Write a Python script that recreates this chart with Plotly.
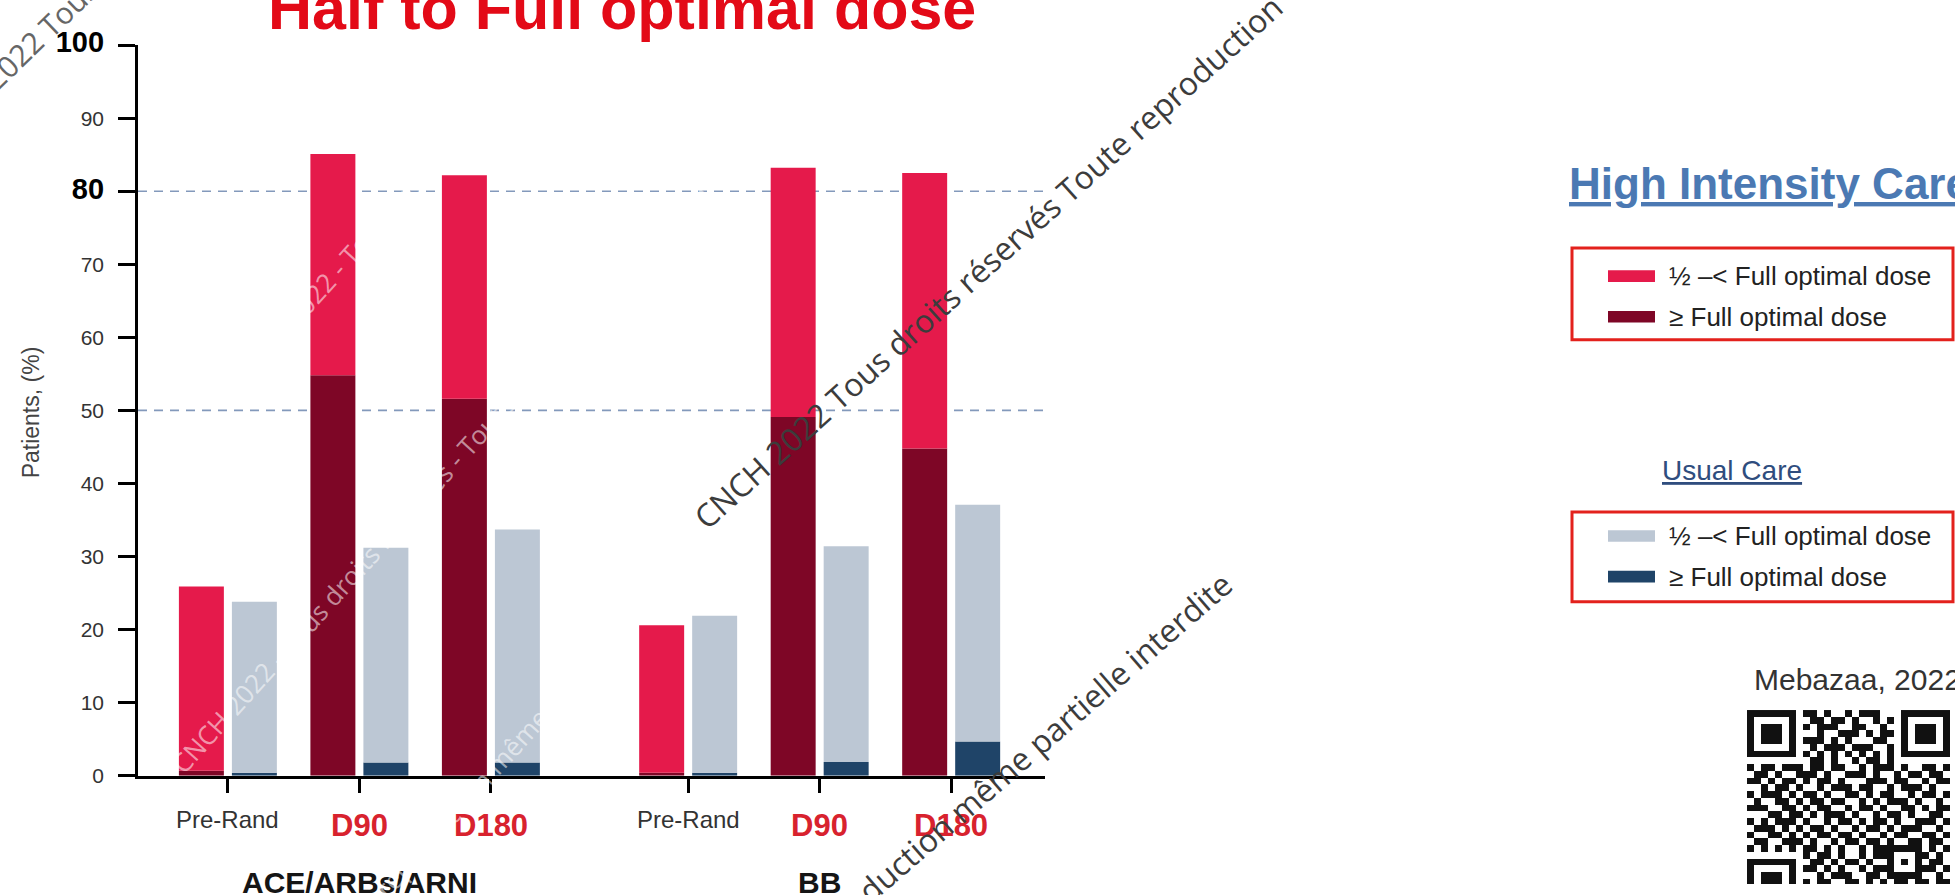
import plotly.graph_objects as go

W, H = 1955, 895

# ---- data -------------------------------------------------------------
categories = ["Pre-Rand", "D90", "D180", "Pre-Rand", "D90", "D180"]
cat_pos = [0, 1, 2, 3.5, 4.5, 5.5]
groups = ["ACE/ARBs/ARNI", "BB"]
group_pos = [1, 4.5]

# % of patients, High Intensity Care
hi_full = [0.7, 54.8, 51.6, 0.4, 49.1, 44.8]      # >= full optimal dose
hi_half = [25.2, 30.3, 30.6, 20.2, 34.1, 37.7]    # 1/2 to < full optimal dose
# % of patients, Usual Care
uc_full = [0.4, 1.8, 1.8, 0.4, 1.9, 4.7]
uc_half = [23.4, 29.4, 31.9, 21.5, 29.5, 32.4]

ref_lines = [80, 50]
y_ticks = [0, 10, 20, 30, 40, 50, 60, 70, 80, 90, 100]
y_bold_ticks = [80, 100]

legend_labels = ["½ –< Full optimal dose", "≥ Full optimal dose"]

# QR code modules (29 x 29)
qr_rows = [
    "11111110110100101110001111111",
    "10000010011011010010101000001",
    "10111010101110011001001011101",
    "10111010001001110101101011101",
    "10111010111010100011001011101",
    "10000010010111011100101000001",
    "11111110101010101010101111111",
    "00000000011010010110100000000",
    "10110111011011001011101001101",
    "01101001110100111010010110110",
    "11010110101101000111011001011",
    "00101101001011101100101110100",
    "10111010110100110101100101101",
    "01001101011011001010111010010",
    "11100110101100101101001101011",
    "00011011010111010010110100110",
    "10101110100101101011010011101",
    "01110101011010010110101110010",
    "10011010101101101001011001101",
    "01100111010010110110100110110",
    "10101010110101001011111110101",
    "00000000101101001011100011010",
    "11111110011010110100101010110",
    "10000010110101001011100011101",
    "10111010001011100110111110010",
    "10111010101100110101011011011",
    "10111010010111001010101100100",
    "10000010110010110101010111101",
    "11111110011101011010110100110",
]

# ---- style ------------------------------------------------------------
HI_LIGHT = "#e51a4b"
HI_DARK = "#7e0626"
UC_LIGHT = "#bcc7d4"
UC_DARK = "#1f4468"
RED_TXT = "#e30a17"
FONT = "Liberation Sans"

BAR_W = 0.342
HI_OFF = -0.373
UC_OFF = 0.030


def px(x):
    return x / W


def py(y):
    return 1 - y / H


fig = go.Figure()

fig.add_trace(go.Bar(x=cat_pos, y=hi_full, width=BAR_W, offset=HI_OFF,
                     marker=dict(color=HI_DARK, line=dict(width=0)), showlegend=False))
fig.add_trace(go.Bar(x=cat_pos, y=hi_half, base=hi_full, width=BAR_W, offset=HI_OFF,
                     marker=dict(color=HI_LIGHT, line=dict(width=0)), showlegend=False))
fig.add_trace(go.Bar(x=cat_pos, y=uc_full, width=BAR_W, offset=UC_OFF,
                     marker=dict(color=UC_DARK, line=dict(width=0)), showlegend=False))
fig.add_trace(go.Bar(x=cat_pos, y=uc_half, base=uc_full, width=BAR_W, offset=UC_OFF,
                     marker=dict(color=UC_LIGHT, line=dict(width=0)), showlegend=False))

# QR code block
fig.add_trace(go.Heatmap(
    z=[[int(c) for c in row] for row in qr_rows],
    colorscale=[[0, "#ffffff"], [1, "#111111"]], zmin=0, zmax=1,
    showscale=False, xaxis="x2", yaxis="y2", hoverinfo="skip"))

tick_text = []
for v in y_ticks:
    if v in y_bold_ticks:
        tick_text.append(f'<span style="font-size:29px;color:#000"><b>{v}</b></span>')
    else:
        tick_text.append(str(v))

shapes = []
for v in ref_lines:
    shapes.append(dict(type="line", xref="x domain", yref="y", x0=0, x1=1, y0=v, y1=v,
                       line=dict(color="#8399bb", width=1.6, dash="9px,7px"), layer="below"))

# legend boxes
legend_boxes = [
    dict(top=237, bottom=332, items=[(266, HI_LIGHT), (308, HI_DARK)]),
    dict(top=510, bottom=603, items=[(535, UC_LIGHT), (577, UC_DARK)]),
]
annotations = []
for box in legend_boxes:
    shapes.append(dict(type="rect", xref="paper", yref="paper",
                       x0=px(1572), x1=px(1953), y0=py(box["bottom"]), y1=py(box["top"]),
                       line=dict(color="#e3211c", width=3), fillcolor="rgba(0,0,0,0)"))
    for (cy, col), lab in zip(box["items"], legend_labels):
        shapes.append(dict(type="rect", xref="paper", yref="paper",
                           x0=px(1608), x1=px(1655), y0=py(cy + 6), y1=py(cy - 6),
                           line=dict(width=0), fillcolor=col))
        annotations.append(dict(text=lab, x=px(1667), y=py(cy), xref="paper", yref="paper",
                                xanchor="left", yanchor="middle", showarrow=False,
                                font=dict(family=FONT, size=26, color="#222")))

annotations += [
    dict(text="<b><u>High Intensity Care</u></b>", x=px(1567), y=py(170), xref="paper",
         yref="paper", xanchor="left", yanchor="middle", showarrow=False,
         font=dict(family=FONT, size=44, color="#4b79b3")),
    dict(text="<u>Usual Care</u>", x=px(1660), y=py(467), xref="paper", yref="paper",
         xanchor="left", yanchor="middle", showarrow=False,
         font=dict(family=FONT, size=28, color="#2f4d7e")),
    dict(text="Mebazaa, 2022", x=px(1752), y=py(683), xref="paper", yref="paper",
         xanchor="left", yanchor="middle", showarrow=False,
         font=dict(family=FONT, size=30, color="#333")),
    dict(text="<b>Half to Full optimal dose</b>", x=px(622), y=py(-11), xref="paper",
         yref="paper", xanchor="center", yanchor="middle", showarrow=False,
         font=dict(family=FONT, size=61, color=RED_TXT)),
    dict(text="Patients, (%)", x=px(31), y=py(407), xref="paper", yref="paper",
         textangle=-90, xanchor="center", yanchor="middle", showarrow=False,
         font=dict(family=FONT, size=23, color="#444")),
]

# category labels under the x axis
for pos, lab in zip(cat_pos, categories):
    if lab.startswith("D"):
        annotations.append(dict(text=f"<b>{lab}</b>", x=pos, xref="x", y=py(834), yref="paper",
                                xanchor="center", yanchor="middle", showarrow=False,
                                font=dict(family=FONT, size=31, color="#d8222e")))
    else:
        annotations.append(dict(text=lab, x=pos, xref="x", y=py(828), yref="paper",
                                xanchor="center", yanchor="middle", showarrow=False,
                                font=dict(family=FONT, size=24, color="#333")))
for pos, lab in zip(group_pos, groups):
    annotations.append(dict(text=f"<b>{lab}</b>", x=pos, xref="x", y=py(893), yref="paper",
                            xanchor="center", yanchor="middle", showarrow=False,
                            font=dict(family=FONT, size=30, color="#151515")))

# copyright watermarks
wm_font = "Open Sans"
WM_GRAY = "#3c3c3c"
WM_WHITE = "rgba(255,255,255,0.55)"
watermarks = [
    ("CNCH 2022 Tous droits réservés Toute reproduction", 988, 251, -42, 32, WM_GRAY),
    ("Toute reproduction même partielle interdite", 977, 803, -41, 32, WM_GRAY),
    ("CNCH 2022 Tous", 8, 48, -44, 30, "#666"),
    ("CNCH 2022 - Tous droits réservés - Toute reproduction même partielle interdite",
     499, 406, -48, 26, WM_WHITE),
    ("CNCH 2022 - Tous droits réservés", 373, 217, -48, 26, WM_WHITE),
    ("Toute reproduction même partielle interdite", 508, 757, -48, 26, WM_WHITE),
]
for text, cx, cy, ang, size, col in watermarks:
    annotations.append(dict(text=text, x=px(cx), y=py(cy), xref="paper", yref="paper",
                            xanchor="center", yanchor="middle", textangle=ang,
                            showarrow=False, font=dict(family=wm_font, size=size, color=col)))

fig.update_layout(
    width=W, height=H,
    margin=dict(l=0, r=0, t=0, b=0),
    paper_bgcolor="white", plot_bgcolor="white",
    barmode="overlay",
    showlegend=False,
    xaxis=dict(domain=[px(138), px(1045)], range=[-0.684, 6.213],
               tickvals=cat_pos, showticklabels=False, ticks="outside", ticklen=14,
               tickwidth=2.5, tickcolor="#000", showline=True, linewidth=2.5,
               linecolor="#000", showgrid=False, zeroline=False),
    yaxis=dict(domain=[py(783), py(27)], range=[0, 100], tickvals=y_ticks,
               ticktext=tick_text, ticks="outside", ticklen=17, tickwidth=3,
               tickcolor="#000", showline=True, linewidth=2.5, linecolor="#000",
               tickfont=dict(family=FONT, size=21, color="#333"),
               ticklabelstandoff=10, showgrid=False, zeroline=False),
    xaxis2=dict(domain=[px(1747), px(1950)], range=[-0.5, 28.5], visible=False,
                anchor="y2"),
    yaxis2=dict(domain=[0, py(715)], range=[25.21, -0.5], visible=False, anchor="x2"),
    shapes=shapes,
    annotations=annotations,
)

fig.write_html("out.html")
